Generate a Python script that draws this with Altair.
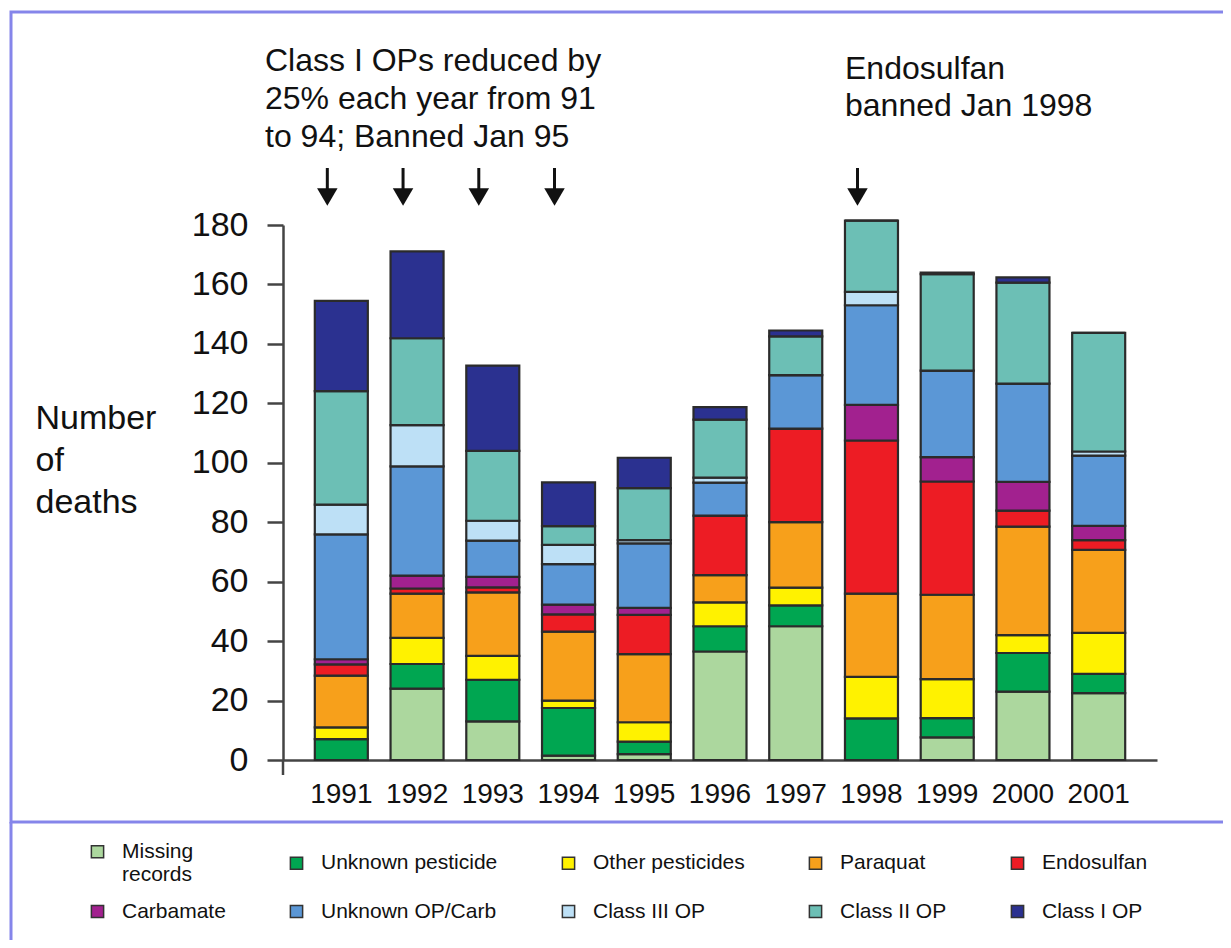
import altair as alt
import pandas as pd

FONT = "Liberation Sans"

years = ["1991", "1992", "1993", "1994", "1995", "1996", "1997", "1998", "1999", "2000", "2001"]
categories = ["Missing records", "Unknown pesticide", "Other pesticides", "Paraquat", "Endosulfan",
              "Carbamate", "Unknown OP/Carb", "Class III OP", "Class II OP", "Class I OP"]
colors = ["#acd79e", "#00a651", "#fff200", "#f7a01b", "#ed1c24",
          "#a2218f", "#5b97d6", "#bde0f6", "#6cbfb5", "#2b3190"]

missing_records = [0, 24, 13, 1.5, 2, 36.5, 45, 0, 7.6, 23, 22.5]
unknown_pesticide = [7, 8.3, 14, 16, 4.2, 8.5, 7, 14, 6.5, 13, 6.5]
other_pesticides = [4, 8.8, 8, 2.5, 6.5, 8, 6, 14, 13.1, 6, 13.8]
paraquat = [17.4, 14.9, 21.4, 23.2, 22.9, 9.2, 22, 28, 28.4, 36.5, 27.9]
endosulfan = [3.8, 1.7, 1.7, 5.8, 13.2, 20, 31.5, 51.5, 38.1, 5.4, 3.3]
carbamate = [1.7, 4.3, 3.5, 3.3, 2.4, 0, 0, 12, 8.2, 9.7, 4.8]
unknown_op_carb = [42, 36.8, 12.2, 13.6, 21.7, 11.1, 18, 33.5, 29.1, 33, 23.6]
class_iii_op = [10, 13.9, 6.7, 6.5, 1.1, 1.7, 0, 4.5, 0, 0, 1.4]
class_ii_op = [38.2, 29.2, 23.5, 6.3, 17.5, 19.5, 13, 24, 32.5, 34, 39.9]
class_i_op = [30.4, 29.2, 28.7, 14.7, 10.2, 4.2, 2, 0, 0.5, 1.8, 0]

series = [missing_records, unknown_pesticide, other_pesticides, paraquat, endosulfan,
          carbamate, unknown_op_carb, class_iii_op, class_ii_op, class_i_op]

arrow_years = ["1991", "1992", "1993", "1994", "1998"]
note_left = "Class I OPs reduced by\n25% each year from 91\nto 94; Banned Jan 95"
note_right = "Endosulfan\nbanned Jan 1998"

rows = []
for ci, (cat, vals) in enumerate(zip(categories, series)):
    for yr, v in zip(years, vals):
        rows.append({"year": yr, "category": cat, "deaths": v, "order": ci})
df = pd.DataFrame(rows)

x_enc = alt.X(
    "year:O", sort=years,
    scale=alt.Scale(domain=years, paddingInner=0.3, paddingOuter=0.42),
    axis=alt.Axis(title=None, labelAngle=0, labelFontSize=28, labelPadding=20, ticks=False,
                  domainColor="#444444", domainWidth=2.5, labelColor="#111111"),
)

bars = alt.Chart(df).mark_bar(stroke="#2b2b2b", strokeWidth=2.2).encode(
    x=x_enc,
    y=alt.Y(
        "deaths:Q", stack="zero",
        scale=alt.Scale(domain=[0, 180], nice=False),
        axis=alt.Axis(values=list(range(0, 181, 20)), tickSize=16, tickWidth=2.5,
                      tickColor="#444444", domainColor="#444444", domainWidth=2.5,
                      labelFontSize=34, labelPadding=19, labelColor="#111111", grid=False,
                      title=["Number", "of", "deaths"], titleAngle=0, titleAlign="left",
                      titleBaseline="alphabetic", titleX=-248, titleY=203, titleFontSize=34,
                      titleFontWeight="normal", titleLineHeight=42, titleColor="#111111"),
    ),
    color=alt.Color(
        "category:N",
        scale=alt.Scale(domain=categories, range=colors),
        legend=alt.Legend(
            title=None, orient="none", legendX=-196, legendY=616, columns=5,
            direction="horizontal",
            symbolType="square", symbolSize=150, symbolStrokeColor="#333333",
            symbolStrokeWidth=1.5, symbolOpacity=1, labelFontSize=21, labelColor="#111111",
            columnPadding=60, rowPadding=15, labelOffset=14, labelLimit=300,
            labelExpr="datum.label == 'Missing records' ? ['Missing', 'records'] : datum.label",
        ),
    ),
    order=alt.Order("order:Q", sort="ascending"),
)

one = pd.DataFrame({"k": [0]})

border = alt.Chart(one).mark_rect(fillOpacity=0, stroke="#8585ea", strokeWidth=3).encode(
    x=alt.value(-272), x2=alt.value(990), y=alt.value(-213), y2=alt.value(597)
)
border_left = alt.Chart(one).mark_rule(stroke="#8585ea", strokeWidth=3).encode(
    x=alt.value(-272), y=alt.value(597), y2=alt.value(740)
)
axis_ext = alt.Chart(one).mark_rule(stroke="#444444", strokeWidth=2.5).encode(
    x=alt.value(0), y=alt.value(535), y2=alt.value(550)
)

text1 = alt.Chart(one).mark_text(
    text=note_left, lineBreak="\n", lineHeight=38, align="left", baseline="alphabetic",
    fontSize=32, font=FONT, color="#111111"
).encode(x=alt.value(-18), y=alt.value(-154))

text2 = alt.Chart(one).mark_text(
    text=note_right, lineBreak="\n", lineHeight=37, align="left", baseline="alphabetic",
    fontSize=32, font=FONT, color="#111111"
).encode(x=alt.value(562), y=alt.value(-146))

adf = pd.DataFrame({"year": arrow_years})
shafts = alt.Chart(adf).mark_rule(stroke="#111111", strokeWidth=3, xOffset=-14).encode(
    x=alt.X("year:O", sort=years), y=alt.value(-57), y2=alt.value(-35)
)
heads = alt.Chart(adf).mark_point(shape="triangle-down", filled=True, size=420, color="#111111",
                                  opacity=1, xOffset=-14).encode(
    x=alt.X("year:O", sort=years), y=alt.value(-28)
)

chart = alt.layer(border, border_left, bars, axis_ext, text1, text2, shafts, heads).properties(
    width=874, height=535,
    autosize=alt.AutoSizeParams(type="none"),
    padding={"left": 275, "top": 217, "right": 66, "bottom": 180},
    background="white",
).configure_view(strokeWidth=0).configure_axis(
    labelFont=FONT, titleFont=FONT
).configure_legend(labelFont=FONT).configure_text(font=FONT)

chart.save("out.html", embed_options={"renderer": "svg", "actions": False})
